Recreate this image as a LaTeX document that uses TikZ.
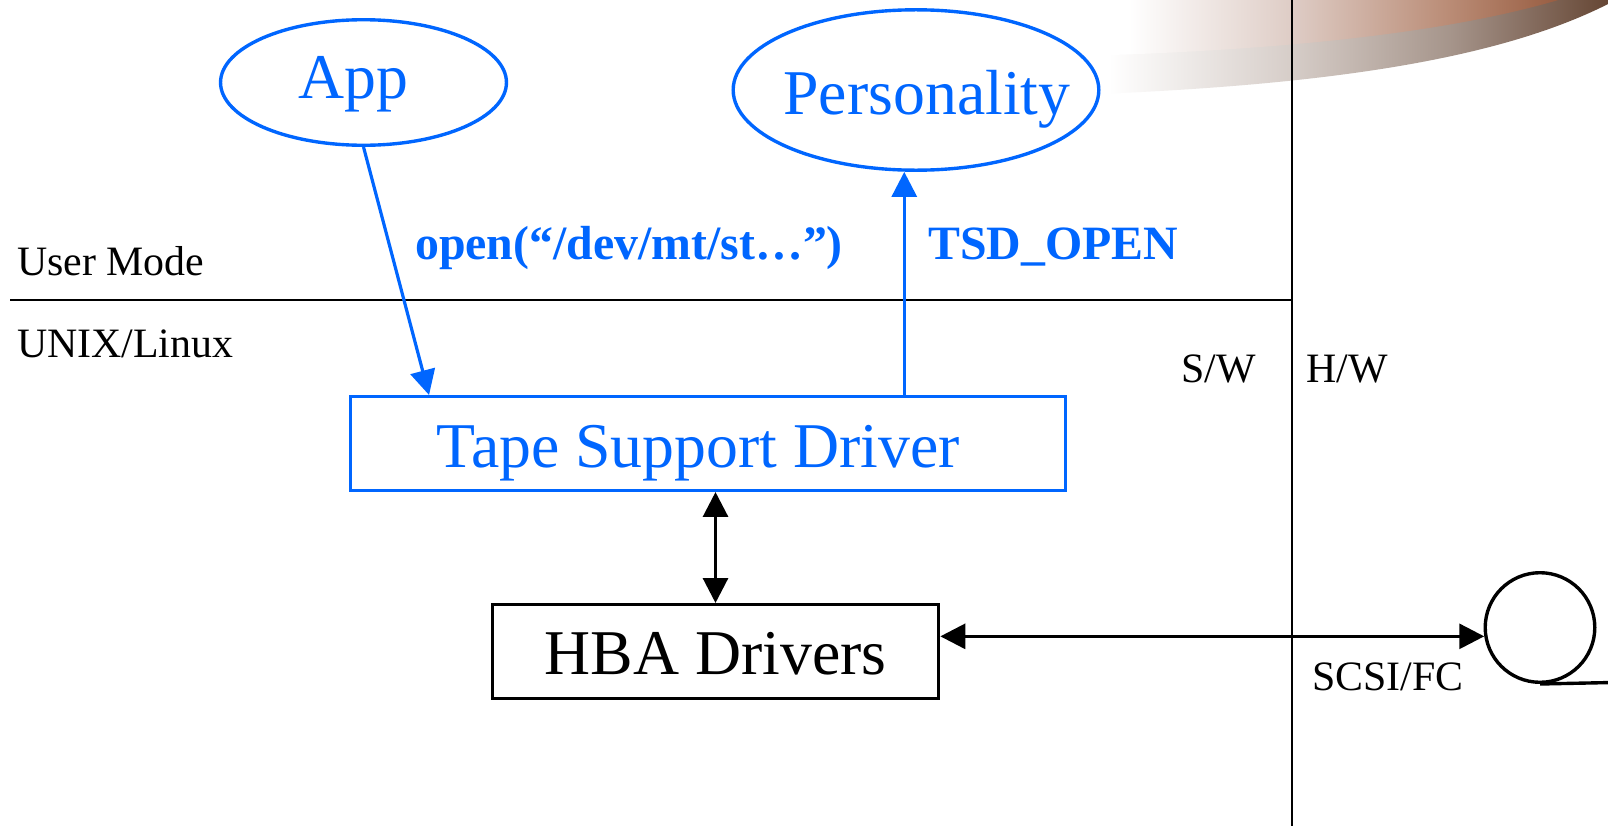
\documentclass[tikz,border=0pt]{standalone}
\usepackage{fontspec}
\setmainfont{Liberation Serif}
\usetikzlibrary{arrows.meta,shapes.geometric}

\definecolor{tsdblue}{RGB}{0,102,255}
% colours of the decorative swoosh in the top right corner
\definecolor{swoA}{RGB}{214,205,200}
\definecolor{swoB}{RGB}{165,148,138}
\definecolor{swoC}{RGB}{100,68,50}
\definecolor{swiA}{RGB}{222,204,197}
\definecolor{swiB}{RGB}{186,140,118}
\definecolor{swiC}{RGB}{150,90,62}
\pgfdeclarehorizontalshading{swooshouter}{100bp}{color(0bp)=(white); color(31bp)=(white);
  color(47bp)=(swoA); color(61bp)=(swoB); color(75bp)=(swoC); color(100bp)=(swoC)}
\pgfdeclarehorizontalshading{swooshinner}{100bp}{color(0bp)=(white); color(30bp)=(white);
  color(47bp)=(swiA); color(63bp)=(swiB); color(75bp)=(swiC); color(100bp)=(swiC)}

\tikzset{
  bigtext/.style={font=\fontsize{64}{64}\selectfont},
  oval/.style={ellipse, draw=tsdblue, line width=3.4pt, text=tsdblue, bigtext, inner sep=0pt},
  bluebox/.style={rectangle, draw=tsdblue, line width=3.4pt, text=tsdblue, bigtext,
    inner sep=0pt, text height=48pt, text depth=0pt},
  blackbox/.style={rectangle, draw=black, line width=3.4pt, bigtext,
    inner sep=0pt, text height=47pt, text depth=0pt},
  lbl/.style={font=\fontsize{42}{42}\selectfont, inner sep=0pt, anchor=base west},
  calllbl/.style={font=\bfseries\fontsize{48}{48}\selectfont, text=tsdblue, inner sep=0pt, anchor=base west},
  divider/.style={line width=2pt, draw=black},
  tip/.style={line width=3.2pt, -{Triangle[length=25pt,width=25pt]}},
  twotip/.style={line width=3.2pt, {Triangle[length=25pt,width=25pt]}-{Triangle[length=25pt,width=25pt]}},
}

\begin{document}
\begin{tikzpicture}[x=1bp,y=-1bp]
  \useasboundingbox (0,0) rectangle (1608,825);
  \fill[white] (0,0) rectangle (1608,825);

  % swoosh decoration
  \begin{scope}
    \clip (0,0) rectangle (1608,825);
    \shade[shading=swooshouter] (1040,-2) -- (1040,96)
      .. controls (1320,88) and (1500,60) .. (1612,2) -- (1612,-2) -- cycle;
    \shade[shading=swooshinner] (1080,-2) -- (1080,56)
      .. controls (1300,50) and (1460,30) .. (1565,-2) -- cycle;
  \end{scope}

  % mode and S/W-H/W dividers
  \coordinate (vtop) at (1292,-2);
  \coordinate (vbot) at (1292,827);
  \coordinate (hleft) at (10,300);
  \draw[divider] (vtop) -- (vbot);
  \draw[divider] (hleft) -- (hleft -| vtop);

  % side labels
  \node[lbl] (usermode) at (17,275) {User Mode};
  \node[lbl] (unix) at (17,357) {UNIX/Linux};
  \node[lbl] (sw) at (1181,382) {S/W};
  \node[lbl] (hw) at (1306,382) {H/W};
  \node[lbl] (scsi) at (1312,690) {SCSI/FC};

  % components
  \node[oval, minimum width=287pt, minimum height=126pt, text height=33pt, text depth=0pt]
    (app) at (363.5,82.5) {\makebox[0pt]{\kern-20pt App}};
  \node[oval, minimum width=367pt, minimum height=161pt, text height=50pt, text depth=0pt]
    (pers) at (916,90) {\makebox[0pt]{\kern22pt Personality}};
  \node[bluebox, minimum width=718pt, minimum height=94pt]
    (tsd) at (708,443.5) {\kern-20pt Tape Support Driver};
  \node[blackbox, minimum width=448pt, minimum height=94pt]
    (hba) at (715.5,651.5) {HBA Drivers};
  \node[circle, draw=black, line width=3.4pt, minimum size=110pt, inner sep=0pt]
    (tape) at (1540,627.5) {};
  \coordinate (tailend) at (1612,682.5);

  % connectors
  \draw[tip, draw=tsdblue, fill=tsdblue] (app.south) -- ([xshift=-280pt]tsd.north);
  \coordinate (tsdup) at ([xshift=197pt]tsd.north);
  \draw[tip, draw=tsdblue, fill=tsdblue] (tsdup) -- (tsdup |- pers.south);
  \draw[twotip] (hba.north) -- (hba.north |- tsd.south);
  \draw[twotip] (hba.east |- tape.189) -- (tape.189);
  \draw[line width=3.4pt] (tape.south) -- (tailend);

  % call labels
  \node[calllbl] (openlbl) at (415,259) {open(“/dev/mt/st…”)};
  \node[calllbl] (tsdopen) at (928,259) {TSD\_OPEN};
\end{tikzpicture}
\end{document}
